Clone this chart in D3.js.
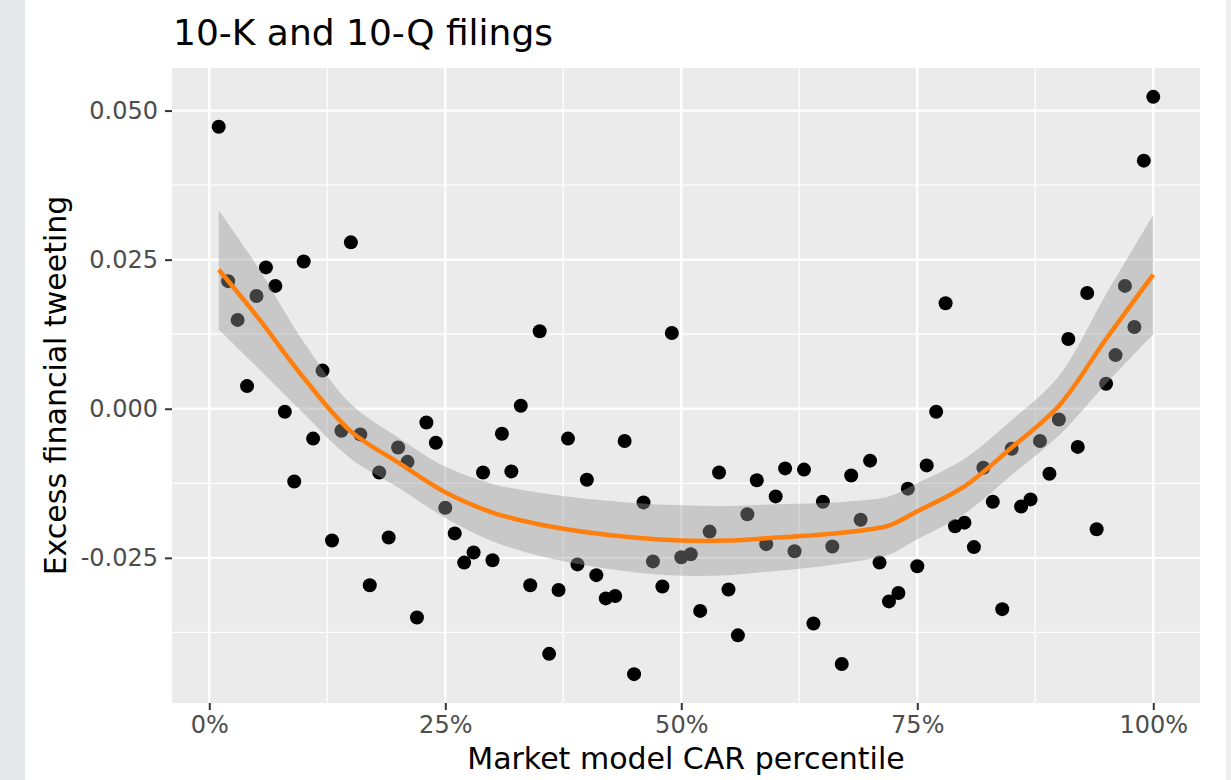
<!DOCTYPE html>
<html>
<head>
<meta charset="utf-8">
<script src="https://cdn.jsdelivr.net/npm/d3@7"></script>
<style>
  html, body { margin: 0; padding: 0; background: #ffffff; }
  svg { display: block; font-family: "DejaVu Sans", sans-serif; }
</style>
</head>
<body>
<svg id="chart" width="1231" height="780"></svg>
<script>
// ---------- data ----------
const titleText = "10-K and 10-Q filings";
const xTitle = "Market model CAR percentile";
const yTitle = "Excess financial tweeting";

// percentiles 1..100 (as fractions)
const percentiles = d3.range(1, 101).map(p => p / 100);

// excess financial tweeting at each percentile
const tweeting = [
  0.0473, 0.0214, 0.0149, 0.0038, 0.0189, 0.0237, 0.0206, -0.0005, -0.0122, 0.0247,
  -0.0050, 0.0064, -0.0221, -0.0037, 0.0279, -0.0043, -0.0296, -0.0107, -0.0216, -0.0065,
  -0.0089, -0.0350, -0.0023, -0.0057, -0.0166, -0.0209, -0.0258, -0.0241, -0.0107, -0.0254,
  -0.0042, -0.0105, 0.0005, -0.0296, 0.0130, -0.0411, -0.0304, -0.0050, -0.0261, -0.0119,
  -0.0279, -0.0318, -0.0314, -0.0054, -0.0445, -0.0157, -0.0256, -0.0298, 0.0127, -0.0249,
  -0.0244, -0.0339, -0.0206, -0.0107, -0.0303, -0.0380, -0.0177, -0.0120, -0.0227, -0.0147,
  -0.0100, -0.0239, -0.0102, -0.0360, -0.0156, -0.0231, -0.0428, -0.0112, -0.0186, -0.0087,
  -0.0258, -0.0323, -0.0309, -0.0134, -0.0264, -0.0095, -0.0005, 0.0177, -0.0197, -0.0191,
  -0.0232, -0.0099, -0.0156, -0.0336, -0.0067, -0.0164, -0.0152, -0.0054, -0.0109, -0.0018,
  0.0117, -0.0064, 0.0194, -0.0202, 0.0042, 0.0090, 0.0206, 0.0137, 0.0416, 0.0523
];

// loess smoother (fit and confidence band) read at a few percentiles
const smoothX = [0.01, 0.05, 0.10, 0.15, 0.20, 0.25, 0.30, 0.35, 0.40, 0.45, 0.50,
                 0.55, 0.60, 0.65, 0.70, 0.72, 0.75, 0.80, 0.85, 0.90, 0.95, 1.00];
const smoothFit = [0.0233, 0.0156, 0.0052, -0.0038, -0.0090, -0.0140, -0.0174, -0.0194, -0.0207, -0.0216, -0.0221,
                   -0.0221, -0.0216, -0.0211, -0.0202, -0.0196, -0.0172, -0.0130, -0.0065, 0.0005, 0.0117, 0.0225];
const smoothLower = [0.0133, 0.0071, -0.0008, -0.0084, -0.0132, -0.0183, -0.0222, -0.0247, -0.0263, -0.0274, -0.0280,
                     -0.0279, -0.0272, -0.0264, -0.0252, -0.0245, -0.0219, -0.0176, -0.0111, -0.0045, 0.0042, 0.0125];
const smoothUpper = [0.0333, 0.0241, 0.0112, 0.0008, -0.0048, -0.0097, -0.0126, -0.0141, -0.0151, -0.0158, -0.0162,
                     -0.0163, -0.0160, -0.0158, -0.0152, -0.0147, -0.0125, -0.0084, -0.0019, 0.0055, 0.0192, 0.0325];

const xTicks = [0, 0.25, 0.5, 0.75, 1.0];
const xTickLabels = ["0%", "25%", "50%", "75%", "100%"];
const xMinor = [0.125, 0.375, 0.625, 0.875];
const yTicks = [0.05, 0.025, 0.0, -0.025];
const yTickLabels = ["0.050", "0.025", "0.000", "-0.025"];
const yMinor = [0.0375, 0.0125, -0.0125, -0.0375];

// ---------- layout ----------
const W = 1231, H = 780;
const panel = { left: 172, right: 1200, top: 68, bottom: 703 };

const svg = d3.select("#chart");

// page edges (background photo strips)
svg.append("rect").attr("x", 0).attr("y", 0).attr("width", 25).attr("height", H).attr("fill", "#e5e7e9");
svg.append("rect").attr("x", 1226).attr("y", 0).attr("width", 5).attr("height", H).attr("fill", "#eeeeee");

// scales with ggplot-style 5% expansion
const xExt = d3.extent(percentiles), yExt = d3.extent(tweeting);
const xPad = (xExt[1] - xExt[0]) * 0.05, yPad = (yExt[1] - yExt[0]) * 0.05;
const x = d3.scaleLinear().domain([xExt[0] - xPad, xExt[1] + xPad]).range([panel.left, panel.right]);
const y = d3.scaleLinear().domain([yExt[0] - yPad, yExt[1] + yPad]).range([panel.bottom, panel.top]);

// panel background
svg.append("rect")
  .attr("x", panel.left).attr("y", panel.top)
  .attr("width", panel.right - panel.left).attr("height", panel.bottom - panel.top)
  .attr("fill", "#ebebeb");

const grid = svg.append("g");
grid.selectAll("line.ymin").data(yMinor).join("line")
  .attr("x1", panel.left).attr("x2", panel.right)
  .attr("y1", d => y(d)).attr("y2", d => y(d))
  .attr("stroke", "#ffffff").attr("stroke-width", 1.2);
grid.selectAll("line.xmin").data(xMinor).join("line")
  .attr("y1", panel.top).attr("y2", panel.bottom)
  .attr("x1", d => x(d)).attr("x2", d => x(d))
  .attr("stroke", "#ffffff").attr("stroke-width", 1.2);
grid.selectAll("line.ymaj").data(yTicks).join("line")
  .attr("x1", panel.left).attr("x2", panel.right)
  .attr("y1", d => y(d)).attr("y2", d => y(d))
  .attr("stroke", "#ffffff").attr("stroke-width", 2.4);
grid.selectAll("line.xmaj").data(xTicks).join("line")
  .attr("y1", panel.top).attr("y2", panel.bottom)
  .attr("x1", d => x(d)).attr("x2", d => x(d))
  .attr("stroke", "#ffffff").attr("stroke-width", 2.4);

// points
svg.append("g").selectAll("circle").data(percentiles).join("circle")
  .attr("cx", d => x(d))
  .attr("cy", (d, i) => y(tweeting[i]))
  .attr("r", 7)
  .attr("fill", "#000000");

// confidence ribbon
const band = smoothX.map((p, i) => ({ p, lo: smoothLower[i], hi: smoothUpper[i], fit: smoothFit[i] }));
svg.append("path").datum(band)
  .attr("d", d3.area().x(d => x(d.p)).y0(d => y(d.lo)).y1(d => y(d.hi)).curve(d3.curveCatmullRom.alpha(0.5)))
  .attr("fill", "#999999").attr("fill-opacity", 0.42);

// smooth line
svg.append("path").datum(band)
  .attr("d", d3.line().x(d => x(d.p)).y(d => y(d.fit)).curve(d3.curveCatmullRom.alpha(0.5)))
  .attr("fill", "none").attr("stroke", "#ff7f0e").attr("stroke-width", 4.5);

// axes
const xAxis = d3.axisBottom(x).tickValues(xTicks).tickFormat((d, i) => xTickLabels[i]).tickSize(7).tickPadding(6);
const gx = svg.append("g").attr("transform", `translate(0,${panel.bottom})`).call(xAxis);
gx.select(".domain").remove();
gx.selectAll(".tick line").attr("stroke", "#333333").attr("stroke-width", 2);
gx.selectAll(".tick text").attr("fill", "#4d4d4d").attr("font-size", 24).attr("font-family", "DejaVu Sans");

const yAxis = d3.axisLeft(y).tickValues(yTicks).tickFormat((d, i) => yTickLabels[i]).tickSize(7).tickPadding(7);
const gy = svg.append("g").attr("transform", `translate(${panel.left},0)`).call(yAxis);
gy.select(".domain").remove();
gy.selectAll(".tick line").attr("stroke", "#333333").attr("stroke-width", 2);
gy.selectAll(".tick text").attr("fill", "#4d4d4d").attr("font-size", 24).attr("font-family", "DejaVu Sans");

// titles
svg.append("text").attr("x", 173).attr("y", 45)
  .attr("font-size", 36).attr("fill", "#000").text(titleText);

svg.append("text").attr("x", (panel.left + panel.right) / 2).attr("y", 769)
  .attr("text-anchor", "middle").attr("font-size", 30).attr("fill", "#000").text(xTitle);

svg.append("text")
  .attr("transform", `translate(66,${(panel.top + panel.bottom) / 2}) rotate(-90)`)
  .attr("text-anchor", "middle").attr("font-size", 30).attr("fill", "#000").text(yTitle);
</script>
</body>
</html>
